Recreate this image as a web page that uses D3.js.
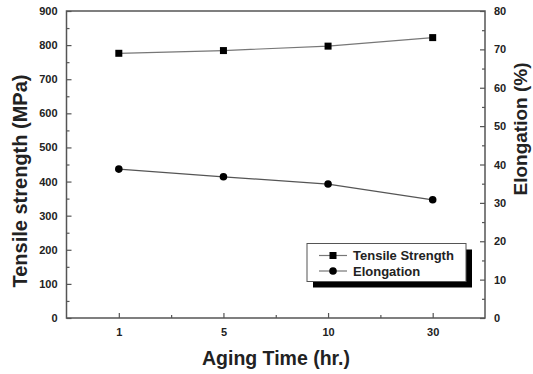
<!DOCTYPE html>
<html><head><meta charset="utf-8">
<script src="https://cdn.jsdelivr.net/npm/d3@7"></script>
<style>html,body{margin:0;padding:0;background:#fff;}svg{display:block;font-family:Arial,"Liberation Sans",sans-serif;}</style>
</head><body>
<svg id="c" width="533" height="374"></svg>
<script>
const categories = ["1", "5", "10", "30"];
const tensile = [776, 784, 797, 822];
const elongation = [38.8, 36.8, 34.9, 30.8];
const leftTicks = [0, 100, 200, 300, 400, 500, 600, 700, 800, 900];
const rightTicks = [0, 10, 20, 30, 40, 50, 60, 70, 80];
const seriesNames = ["Tensile Strength", "Elongation"];

const svg = d3.select("#c");
const L = 66.5, R = 485, T = 11, B = 318;
const axisColor = "#555", textColor = "#222";

const x = d3.scaleLinear().domain([-0.5, categories.length - 0.5]).range([L, R]);
const yL = d3.scaleLinear().domain([0, 900]).range([B, T]);
const yR = d3.scaleLinear().domain([0, 80]).range([B, T]);

// frame
svg.append("rect").attr("x", L).attr("y", T).attr("width", R - L).attr("height", B - T)
  .attr("fill", "none").attr("stroke", axisColor).attr("stroke-width", 1.5);

function styleAxis(g) {
  g.select(".domain").remove();
  g.selectAll("line").attr("stroke", axisColor).attr("stroke-width", 1.2);
  g.selectAll("text").attr("fill", textColor).attr("font-weight", "bold").attr("font-size", 11);
}

// left axis (inward ticks)
const gl = svg.append("g").attr("transform", `translate(${L},0)`)
  .call(d3.axisLeft(yL).tickValues(leftTicks).tickSizeInner(-5).tickSizeOuter(0).tickPadding(9));
styleAxis(gl);
svg.append("g").attr("transform", `translate(${L},0)`)
  .call(d3.axisLeft(yL).tickValues(leftTicks.slice(0, -1).map(v => v + 50)).tickSize(-3).tickFormat(""))
  .call(styleAxis);

// right axis
const gr = svg.append("g").attr("transform", `translate(${R},0)`)
  .call(d3.axisRight(yR).tickValues(rightTicks).tickSizeInner(-5).tickSizeOuter(0).tickPadding(9));
styleAxis(gr);
svg.append("g").attr("transform", `translate(${R},0)`)
  .call(d3.axisRight(yR).tickValues(rightTicks.slice(0, -1).map(v => v + 5)).tickSize(-3).tickFormat(""))
  .call(styleAxis);

// bottom axis
const gb = svg.append("g").attr("transform", `translate(0,${B})`)
  .call(d3.axisBottom(x).tickValues(d3.range(categories.length)).tickFormat(i => categories[i])
    .tickSizeInner(-5).tickSizeOuter(0).tickPadding(10));
styleAxis(gb);
svg.append("g").attr("transform", `translate(0,${B})`)
  .call(d3.axisBottom(x).tickValues(d3.range(categories.length - 1).map(i => i + 0.5)).tickSize(-3).tickFormat(""))
  .call(styleAxis);

// lines
const lineColor = "#777";
const lineT = d3.line().x((d, i) => x(i)).y(d => yL(d));
const lineE = d3.line().x((d, i) => x(i)).y(d => yR(d));
svg.append("path").datum(tensile).attr("d", lineT).attr("fill", "none").attr("stroke", lineColor).attr("stroke-width", 1.2);
svg.append("path").datum(elongation).attr("d", lineE).attr("fill", "none").attr("stroke", "#555").attr("stroke-width", 1.2);

svg.selectAll(".sq").data(tensile).enter().append("rect")
  .attr("x", (d, i) => x(i) - 3.5).attr("y", d => yL(d) - 3.5)
  .attr("width", 7).attr("height", 7).attr("fill", "#000");
svg.selectAll(".ci").data(elongation).enter().append("circle")
  .attr("cx", (d, i) => x(i)).attr("cy", d => yR(d)).attr("r", 3.8).attr("fill", "#000");

// axis titles
svg.append("text").attr("transform", `translate(27,181) rotate(-90)`).attr("text-anchor", "middle")
  .attr("font-size", 20).attr("font-weight", "bold").attr("fill", textColor).text("Tensile strength (MPa)");
svg.append("text").attr("transform", `translate(527,129) rotate(-90)`).attr("text-anchor", "middle")
  .attr("font-size", 19).attr("font-weight", "bold").attr("fill", textColor).text("Elongation (%)");
svg.append("text").attr("x", 276).attr("y", 365).attr("text-anchor", "middle")
  .attr("font-size", 19.5).attr("font-weight", "bold").attr("fill", textColor).text("Aging Time (hr.)");

// legend
const lx = 307, ly = 243.5, lw = 159, lh = 38;
svg.append("rect").attr("x", lx + 6).attr("y", ly + 6).attr("width", lw).attr("height", lh).attr("fill", "#000");
svg.append("rect").attr("x", lx).attr("y", ly).attr("width", lw).attr("height", lh)
  .attr("fill", "#fff").attr("stroke", axisColor).attr("stroke-width", 1);
const leg = svg.append("g");
seriesNames.forEach((name, i) => {
  const yy = ly + 12 + i * 15.5;
  leg.append("line").attr("x1", lx + 12).attr("x2", lx + 40).attr("y1", yy).attr("y2", yy)
    .attr("stroke", lineColor).attr("stroke-width", 1.2);
  if (i === 0) leg.append("rect").attr("x", lx + 26 - 3.5).attr("y", yy - 3.5).attr("width", 7).attr("height", 7).attr("fill", "#000");
  else leg.append("circle").attr("cx", lx + 26).attr("cy", yy).attr("r", 3.8).attr("fill", "#000");
  leg.append("text").attr("x", lx + 46).attr("y", yy + 4.5).attr("font-size", 13).attr("font-weight", "bold")
    .attr("fill", textColor).text(name);
});
</script>
</body></html>
